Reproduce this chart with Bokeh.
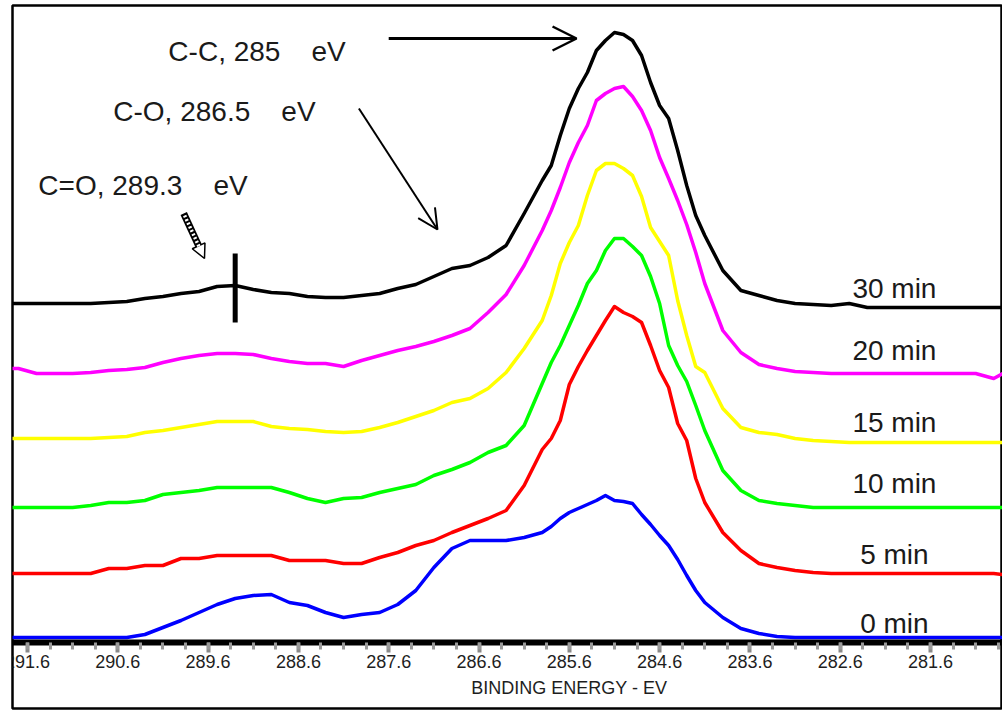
import numpy as np
from bokeh.plotting import figure
from bokeh.models import Range1d, FixedTicker, Label, Arrow, OpenHead, NormalHead, NumeralTickFormatter
from bokeh.embed import file_html
from bokeh.resources import INLINE
from bokeh.core.properties import value

# ---------------- data (binding energy in eV, intensity in arbitrary stacked units) -------------
energy = [291.8, 291.7, 291.5, 291.3, 291.1, 290.9, 290.7, 290.5, 290.3, 290.1,
          289.9, 289.7, 289.5, 289.3, 289.1, 288.9, 288.7, 288.5, 288.3, 288.1,
          287.9, 287.7, 287.5, 287.3, 287.1, 286.9, 286.7, 286.5, 286.3, 286.1,
          285.9, 285.8, 285.7, 285.6, 285.5, 285.4, 285.3, 285.2, 285.1, 285.0,
          284.9, 284.8, 284.7, 284.6, 284.5, 284.4, 284.3, 284.2, 284.1,
          283.9, 283.7, 283.5, 283.3, 283.1, 282.9, 282.7, 282.5, 282.3, 282.1,
          281.9, 281.7, 281.5, 281.3, 281.1, 280.9, 280.8]

int_30min = [339, 339, 339, 339, 339, 339, 340, 341, 344, 346,
             349, 351, 356, 357, 353, 350, 349, 346, 345, 345,
             347, 349, 354, 358, 366, 374, 377, 385, 397, 429,
             462, 477, 507, 534, 554, 570, 592, 602, 610, 608,
             602, 587, 560, 537, 524, 492, 457, 427, 407,
             372, 352, 347, 342, 339, 338, 337, 339, 335, 335,
             335, 335, 335, 335, 335, 335, 335]

int_20min = [274, 274, 269, 269, 269, 270, 272, 273, 275, 280,
             284, 287, 289, 289, 288, 284, 281, 279, 279, 276,
             282, 287, 292, 296, 301, 307, 314, 330, 348, 377,
             412, 432, 455, 480, 500, 517, 542, 549, 554, 556,
             546, 532, 512, 485, 464, 442, 418, 390, 359,
             312, 290, 278, 274, 271, 270, 269, 269, 269, 269,
             269, 269, 269, 269, 269, 264, 269]

int_15min = [204, 204, 204, 204, 204, 204, 205, 206, 210, 212,
             215, 218, 221, 221, 221, 216, 214, 213, 211, 210,
             211, 215, 220, 226, 232, 240, 244, 254, 270, 294,
             322, 347, 379, 400, 417, 447, 472, 479, 479, 474,
             467, 446, 415, 401, 387, 342, 307, 276, 270,
             234, 215, 210, 208, 204, 202, 201, 200, 200, 200,
             200, 200, 200, 200, 200, 200, 200]

int_10min = [135, 135, 135, 135, 135, 137, 140, 140, 142, 148,
             150, 152, 155, 155, 155, 155, 150, 144, 140, 144,
             145, 150, 154, 158, 167, 173, 180, 190, 197, 217,
             259, 280, 297, 317, 337, 359, 372, 392, 404, 404,
             396, 387, 366, 339, 297, 277, 261, 237, 212,
             172, 152, 142, 139, 137, 135, 135, 135, 135, 135,
             135, 135, 135, 135, 135, 135, 135]

int_5min = [69, 69, 69, 69, 69, 69, 74, 74, 77, 77,
            84, 84, 87, 87, 87, 87, 82, 82, 82, 79,
            79, 85, 90, 97, 102, 110, 117, 124, 132, 157,
            193, 204, 222, 258, 276, 292, 307, 322, 336, 330,
            326, 320, 297, 272, 255, 219, 202, 164, 140,
            110, 92, 79, 75, 72, 70, 69, 69, 69, 69,
            69, 69, 69, 69, 69, 69, 68]

int_0min = [5, 5, 5, 5, 5, 5, 5, 5, 8, 15,
            22, 30, 38, 44, 47, 48, 40, 37, 30, 25,
            28, 30, 38, 52, 75, 94, 102, 102, 102, 105,
            110, 116, 124, 130, 134, 138, 142, 147, 142, 141,
            139, 128, 118, 107, 97, 83, 67, 52, 40,
            25, 14, 9, 6, 5, 5, 5, 5, 5, 5,
            5, 5, 5, 5, 5, 5, 5]

time_labels = ["30 min", "20 min", "15 min", "10 min", "5 min", "0 min"]
series_colors = ["#000000", "#ff00ff", "#ffff00", "#00ff00", "#ff0000", "#0000ff"]

peak_names = ["C-C", "C-O", "C=O"]
peak_ev = [285.0, 286.5, 289.3]

tick_values = [291.6, 290.6, 289.6, 288.6, 287.6, 286.6, 285.6, 284.6, 283.6, 282.6, 281.6]
x_title = "BINDING ENERGY - EV"

# ---------------- figure ----------------
FONT = "Liberation Sans"

p = figure(width=1002, height=710, output_backend="svg", toolbar_location=None,
           x_range=Range1d(291.766, 280.803), y_range=Range1d(-66, 637),
           y_axis_location=None, min_border_left=12, min_border_right=0,
           min_border_top=5, min_border_bottom=2,
           background_fill_color="white", border_fill_color="white")
p.grid.visible = False
p.outline_line_color = "black"
p.outline_line_width = 2.5

xa = p.xaxis[0]
xa.fixed_location = 0
xa.ticker = FixedTicker(ticks=tick_values,
                        minor_ticks=[round(v, 2) for v in np.arange(291.6, 280.7, -0.25)])
xa.formatter = NumeralTickFormatter(format="0.0")
xa.axis_line_color = "black"
xa.axis_line_width = 6
xa.major_tick_in = 0
xa.major_tick_out = 10
xa.major_tick_line_width = 4
xa.major_tick_line_color = "#8a8a8a"
xa.minor_tick_in = 0
xa.minor_tick_out = 7
xa.minor_tick_line_width = 3
xa.minor_tick_line_color = "#9a9a9a"
xa.major_label_text_font = FONT
xa.major_label_text_font_size = "18px"
xa.major_label_text_color = "#1e1e1e"
xa.major_label_standoff = 2

# spectra (top to bottom so the lower ones sit on top)
all_series = [int_30min, int_20min, int_15min, int_10min, int_5min, int_0min]
for vals, col in zip(all_series, series_colors):
    p.line(energy, vals, line_color=col, line_width=3.5, line_join="round")

# time labels at the right
label_levels = [354, 292, 220, 159, 88, 19]
p.text(x=[282.0] * len(time_labels), y=label_levels, text=time_labels,
       text_font=value(FONT), text_font_size="28px", text_align="center",
       text_baseline="middle", text_color="#1a1a1a")

# peak assignments
nb = "\u00a0"
peak_text = [f"{n}, {e:g}{nb * 4}eV" for n, e in zip(peak_names, peak_ev)]
p.text(x=[290.04, 290.65, 291.48], y=[591, 531, 457], text=peak_text,
       text_font=value(FONT), text_font_size="28px", text_align="left",
       text_baseline="middle", text_color="#1a1a1a")

# arrows
p.add_layout(Arrow(end=OpenHead(size=24, line_width=2.5, line_color="black"),
                   x_start=287.60, y_start=604, x_end=285.52, y_end=604,
                   line_width=3, line_color="black"))
p.add_layout(Arrow(end=OpenHead(size=20, line_width=2, line_color="black"),
                   x_start=287.93, y_start=534, x_end=287.06, y_end=413,
                   line_width=2, line_color="black"))
p.add_layout(Arrow(end=NormalHead(size=14, fill_color="white", line_color="black", line_width=1.5),
                   x_start=289.87, y_start=429, x_end=289.64, y_end=384,
                   line_width=7, line_color="black"))
p.add_layout(Arrow(end=None, x_start=289.86, y_start=427, x_end=289.68, y_end=392,
                   line_width=3.5, line_color="white", line_dash="2 2"))

# C=O position marker
p.segment(x0=[peak_ev[2]], y0=[320], x1=[peak_ev[2]], y1=[389], line_width=5, line_color="black")

# axis title
p.add_layout(Label(x=285.6, y=-45, text=x_title, text_align="center", text_baseline="middle",
                   text_font=FONT, text_font_size="18px", text_color="#1e1e1e"))

open("out.html", "w").write(file_html(p, INLINE))
